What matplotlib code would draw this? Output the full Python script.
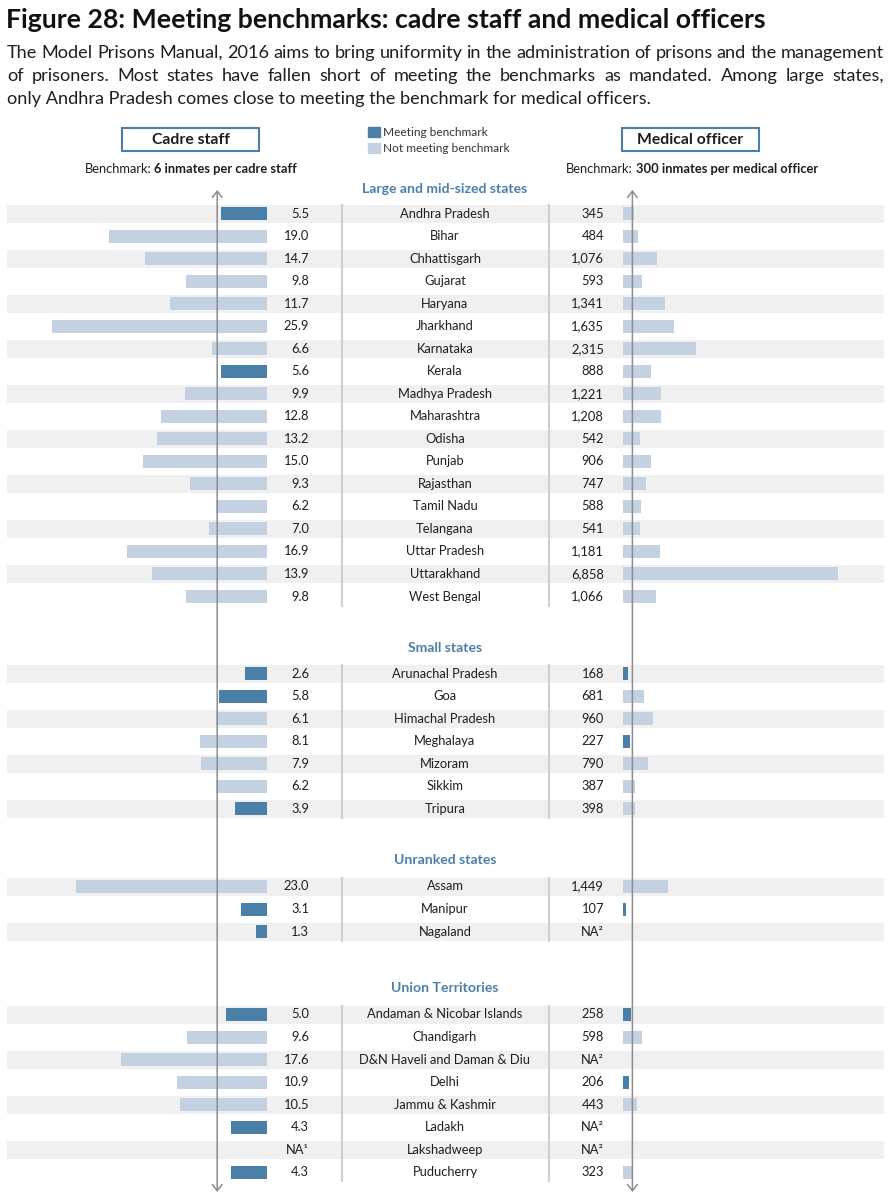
import matplotlib
matplotlib.use("Agg")
import matplotlib.pyplot as plt
from matplotlib.patches import Rectangle, FancyArrowPatch

plt.rcParams['font.family'] = ['Lato', 'DejaVu Sans']

# ---- data ----
large_states = ["Andhra Pradesh", "Bihar", "Chhattisgarh", "Gujarat", "Haryana", "Jharkhand",
                "Karnataka", "Kerala", "Madhya Pradesh", "Maharashtra", "Odisha", "Punjab",
                "Rajasthan", "Tamil Nadu", "Telangana", "Uttar Pradesh", "Uttarakhand", "West Bengal"]
large_cadre = [5.5, 19.0, 14.7, 9.8, 11.7, 25.9, 6.6, 5.6, 9.9, 12.8, 13.2, 15.0, 9.3, 6.2, 7.0, 16.9, 13.9, 9.8]
large_med = [345, 484, 1076, 593, 1341, 1635, 2315, 888, 1221, 1208, 542, 906, 747, 588, 541, 1181, 6858, 1066]

small_states = ["Arunachal Pradesh", "Goa", "Himachal Pradesh", "Meghalaya", "Mizoram", "Sikkim", "Tripura"]
small_cadre = [2.6, 5.8, 6.1, 8.1, 7.9, 6.2, 3.9]
small_med = [168, 681, 960, 227, 790, 387, 398]

unranked_states = ["Assam", "Manipur", "Nagaland"]
unranked_cadre = [23.0, 3.1, 1.3]
unranked_med = [1449, 107, None]

ut_states = ["Andaman & Nicobar Islands", "Chandigarh", "D&N Haveli and Daman & Diu", "Delhi",
             "Jammu & Kashmir", "Ladakh", "Lakshadweep", "Puducherry"]
ut_cadre = [5.0, 9.6, 17.6, 10.9, 10.5, 4.3, None, 4.3]
ut_med = [258, 598, None, 206, 443, None, None, 323]

cadre_benchmark = 6
med_benchmark = 300

groups = [
    ("Large and mid-sized states", large_states, large_cadre, large_med),
    ("Small states", small_states, small_cadre, small_med),
    ("Unranked states", unranked_states, unranked_cadre, unranked_med),
    ("Union Territories", ut_states, ut_cadre, ut_med),
]

# ---- layout (pixel positions) ----
W, H = 895, 1200
header_y = [189, 648, 860, 988]
first_row_y = [213.5, 673.5, 886.5, 1014.5]
pitch = 22.53

DARK = '#4a7fa8'
LIGHT = '#c3d1e1'
BLUE_TXT = '#4a80ab'
TXT = '#1e1e1e'
SHADE = '#f0f0f0'
SEP = '#cfcfcf'
ARROW = '#8c8c8c'

fig = plt.figure(figsize=(W / 100, H / 100), dpi=100)
ax = fig.add_axes([0, 0, 1, 1])
ax.set_xlim(0, W)
ax.set_ylim(H, 0)
ax.axis('off')

# cadre axes: bars grow leftwards from x=267, 8.3 px per unit
cadre_right = 267
cadre_scale = 8.3
cax = fig.add_axes([0, 0, cadre_right / W, 1])
cax.set_xlim(cadre_right / cadre_scale, 0)
cax.set_ylim(H, 0)
cax.axis('off')
cax.patch.set_alpha(0)

# medical axes: bars grow rightwards from x=623
med_left = 623
med_scale = 215 / 6858
max_ = fig.add_axes([med_left / W, 0, (W - med_left) / W, 1])
max_.set_xlim(0, (W - med_left) / med_scale)
max_.set_ylim(H, 0)
max_.axis('off')
max_.patch.set_alpha(0)

# ---- title & subtitle ----
ax.text(6, 20, "Figure 28: Meeting benchmarks: cadre staff and medical officers",
        fontsize=19.2, fontweight='bold', color='#111111', va='center', ha='left')

sub_lines = [
    ("The Model Prisons Manual, 2016 aims to bring uniformity in the administration of prisons and the management", True),
    ("of prisoners. Most states have fallen short of meeting the benchmarks as mandated. Among large states,", True),
    ("only Andhra Pradesh comes close to meeting the benchmark for medical officers.", False),
]
renderer = fig.canvas.get_renderer()
x0, x1 = 7, 884
for i, (line, justify) in enumerate(sub_lines):
    y = 53 + i * 23
    if not justify:
        ax.text(x0, y, line, fontsize=13.1, color=TXT, va='center', ha='left')
        continue
    words = line.split(' ')
    texts = [ax.text(0, y, w, fontsize=13.1, color=TXT, va='center', ha='left') for w in words]
    widths = [t.get_window_extent(renderer).width for t in texts]
    gap = (x1 - x0 - sum(widths)) / (len(words) - 1)
    x = x0
    for t, w in zip(texts, widths):
        t.set_x(x)
        x += w + gap

# ---- panel headers ----
for cx, label in [(190.5, "Cadre staff"), (690.5, "Medical officer")]:
    ax.add_patch(Rectangle((cx - 68.5, 128), 137, 22.5, fill=False, edgecolor=DARK, lw=1.5))
    ax.text(cx, 139.5, label, fontsize=11.3, fontweight='bold', color=TXT, ha='center', va='center')

ax.text(152, 169, "Benchmark:", fontsize=9.3, color=TXT, ha='right', va='center')
ax.text(154, 169, "6 inmates per cadre staff", fontsize=9.3, fontweight='bold', color=TXT, ha='left', va='center')
ax.text(633, 169, "Benchmark:", fontsize=9.3, color=TXT, ha='right', va='center')
ax.text(636, 169, "300 inmates per medical officer", fontsize=9.3, fontweight='bold', color=TXT, ha='left', va='center')

# legend
ax.add_patch(Rectangle((368, 127), 12, 10, color=DARK))
ax.add_patch(Rectangle((368, 143), 12, 10, color=LIGHT))
ax.text(383, 132, "Meeting benchmark", fontsize=8.6, color='#333333', ha='left', va='center')
ax.text(383, 148, "Not meeting benchmark", fontsize=8.6, color='#333333', ha='left', va='center')

# ---- rows ----
for (gname, states, cadre, med), hy, fy in zip(groups, header_y, first_row_y):
    ax.text(445, hy, gname, fontsize=10.1, fontweight='bold', color=BLUE_TXT, ha='center', va='center')
    ys = [fy + k * pitch for k in range(len(states))]
    for k, y in enumerate(ys):
        if k % 2 == 0:
            ax.add_patch(Rectangle((7, y - 9), 877, 18, color=SHADE, lw=0, zorder=0))
    for x in (342, 549):
        ax.plot([x, x], [ys[0] - 9, ys[-1] + 9], color=SEP, lw=1.5, zorder=1)
    for name, c, m, y in zip(states, cadre, med, ys):
        ax.text(445, y, name, fontsize=9.3, color=TXT, ha='center', va='center')
        if c is None:
            ax.text(309, y, "NA¹", fontsize=9.3, color=TXT, ha='right', va='center')
        else:
            ax.text(309, y, f"{c:.1f}", fontsize=9.3, color=TXT, ha='right', va='center')
            cax.barh(y, c, height=13, left=0, color=DARK if c <= cadre_benchmark else LIGHT, zorder=2)
        if m is None:
            ax.text(604, y, "NA²", fontsize=9.3, color=TXT, ha='right', va='center')
        else:
            ax.text(604, y, f"{m:,}", fontsize=9.3, color=TXT, ha='right', va='center')
            max_.barh(y, m, height=13, left=0, color=DARK if m <= med_benchmark else LIGHT, zorder=2)

# benchmark arrows
for a, b in [(cax, cadre_benchmark), (max_, med_benchmark)]:
    a.add_patch(FancyArrowPatch((b, 1192), (b, 190), arrowstyle='<->,head_length=0.45,head_width=0.35',
                                mutation_scale=10, color=ARROW, lw=1.1, zorder=5,
                                shrinkA=0, shrinkB=0))

fig.savefig("out.png", dpi=100)
